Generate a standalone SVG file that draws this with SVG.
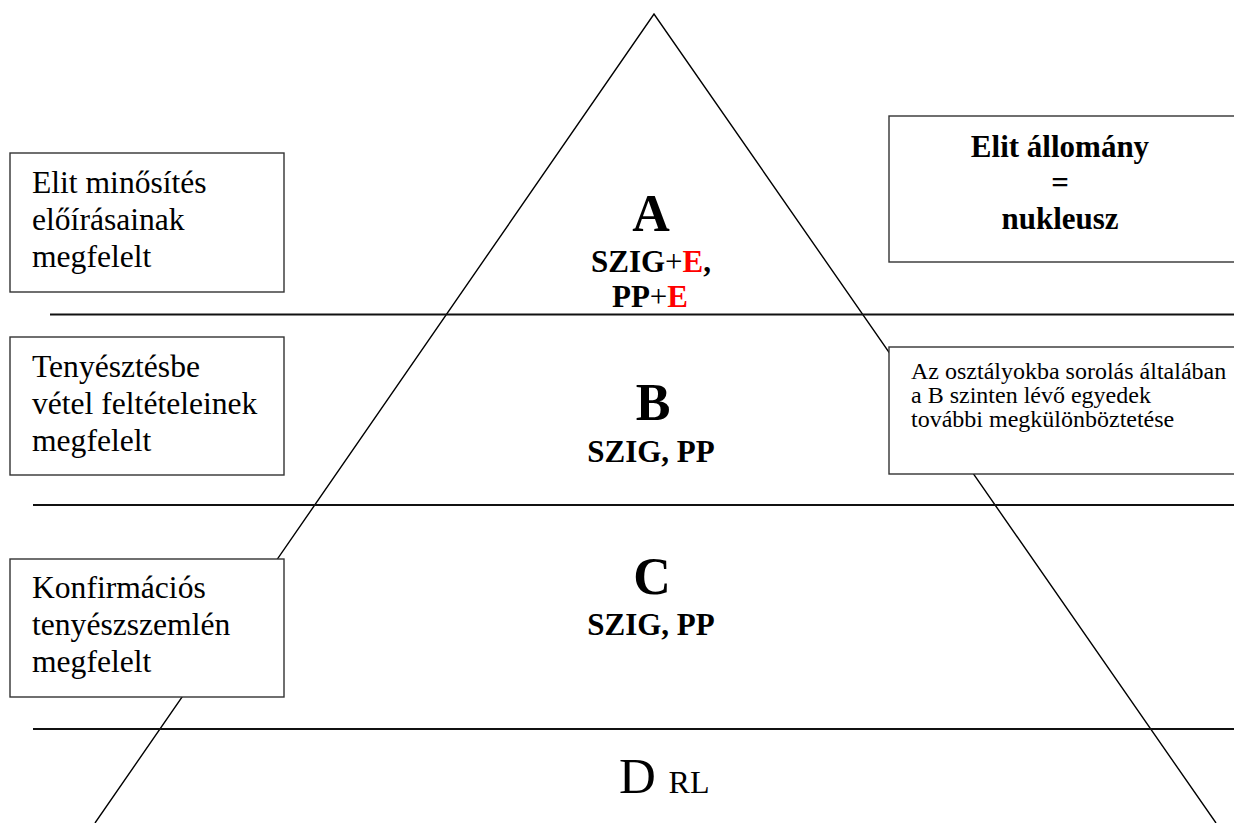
<svg xmlns="http://www.w3.org/2000/svg" width="1234" height="823" viewBox="0 0 1234 823">
<style>
.bg{fill:#ffffff}
.tri{fill:none;stroke:#000;stroke-width:1.4}
.lvl{stroke:#111;stroke-width:2}
.box{fill:#fff;stroke:#333;stroke-width:1.4}
.t{font-family:"Liberation Serif","Times New Roman",serif;fill:#000}
.reg{font-size:31.6px}
.small{font-size:24px}
.big{font-size:52px;font-weight:bold}
.mid{font-size:31px;font-weight:bold}
.red{fill:#ff0000}
</style>
<rect class="bg" x="0" y="0" width="1234" height="823"/>
<g id="connectors">
  <polyline class="tri" points="95,823 654,14 1216,823"/>
  <line class="lvl" x1="50" y1="314.5" x2="1234" y2="314.5"/>
  <line class="lvl" x1="33" y1="505" x2="1234" y2="505"/>
  <line class="lvl" x1="33" y1="729" x2="1234" y2="729"/>
</g>
<g id="level-A">
  <text class="t big" x="651" y="231" text-anchor="middle">A</text>
  <text class="t mid" x="651" y="272" text-anchor="middle">SZIG<tspan font-weight="normal">+</tspan><tspan class="red">E</tspan>,</text>
  <text class="t mid" x="650" y="307" text-anchor="middle">PP<tspan font-weight="normal">+</tspan><tspan class="red">E</tspan></text>
</g>
<g id="level-B">
  <text class="t big" x="653" y="420" text-anchor="middle">B</text>
  <text class="t mid" x="651" y="462" text-anchor="middle">SZIG, PP</text>
</g>
<g id="level-C">
  <text class="t big" x="652" y="594" text-anchor="middle">C</text>
  <text class="t mid" x="651" y="635" text-anchor="middle">SZIG, PP</text>
</g>
<g id="level-D">
  <text class="t" x="619" y="793" font-size="51">D <tspan font-size="32">RL</tspan></text>
</g>
<g id="box-elit-minosites">
  <rect class="box" x="10" y="153" width="274" height="139"/>
  <text class="t reg" x="32" y="193">Elit minősítés</text>
  <text class="t reg" x="32" y="230">előírásainak</text>
  <text class="t reg" x="32" y="267">megfelelt</text>
</g>
<g id="box-tenyesztesbe">
  <rect class="box" x="10" y="337" width="274" height="138"/>
  <text class="t reg" x="32" y="377">Tenyésztésbe</text>
  <text class="t reg" x="32" y="414">vétel feltételeinek</text>
  <text class="t reg" x="32" y="451">megfelelt</text>
</g>
<g id="box-konfirmacios">
  <rect class="box" x="10" y="559" width="274" height="138"/>
  <text class="t reg" x="32" y="598">Konfirmációs</text>
  <text class="t reg" x="32" y="635">tenyészszemlén</text>
  <text class="t reg" x="32" y="672">megfelelt</text>
</g>
<g id="box-elit-allomany">
  <rect class="box" x="889" y="116" width="360" height="146"/>
  <text class="t mid" x="1060" y="157" text-anchor="middle">Elit állomány</text>
  <text class="t mid" x="1060" y="193" text-anchor="middle">=</text>
  <text class="t mid" x="1060" y="229" text-anchor="middle">nukleusz</text>
</g>
<g id="box-osztalyok">
  <rect class="box" x="889" y="347" width="360" height="127"/>
  <text class="t small" x="911" y="379">Az osztályokba sorolás általában</text>
  <text class="t small" x="911" y="403">a B szinten lévő egyedek</text>
  <text class="t small" x="911" y="427">további megkülönböztetése</text>
</g>
</svg>
